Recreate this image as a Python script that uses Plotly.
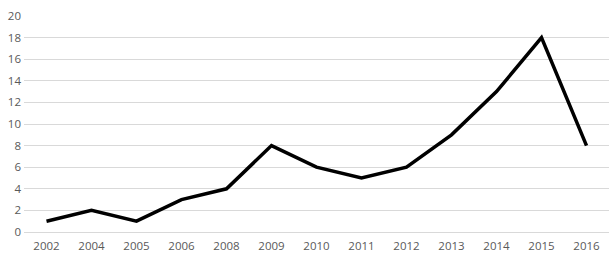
import plotly.graph_objects as go

years = ["2002", "2004", "2005", "2006", "2008", "2009", "2010", "2011", "2012", "2013", "2014", "2015", "2016"]
values = [1, 2, 1, 3, 4, 8, 6, 5, 6, 9, 13, 18, 8]

fig = go.Figure()
fig.add_trace(go.Scatter(x=years, y=values, mode="lines",
                         line=dict(color="black", width=3.5), hoverinfo="skip"))

fig.update_layout(
    width=612, height=258,
    margin=dict(l=24, r=3, t=16, b=26),
    paper_bgcolor="white", plot_bgcolor="white",
    showlegend=False,
    font=dict(family="Open Sans, Liberation Sans, sans-serif", size=11.5, color="#595959"),
)
fig.update_xaxes(type="category", range=[-0.5, 12.5], showgrid=False, showline=False,
                 zeroline=False, ticks="", ticklabelstandoff=5,
                 tickfont=dict(size=11.5, color="#595959"))
fig.update_yaxes(range=[0, 20], dtick=2, showgrid=True, gridcolor="#d9d9d9", gridwidth=1,
                 zeroline=True, zerolinecolor="#d9d9d9", zerolinewidth=1, showline=False,
                 ticks="", ticklabelstandoff=2, tickfont=dict(size=11.5, color="#595959"))

fig.write_html("out.html")
